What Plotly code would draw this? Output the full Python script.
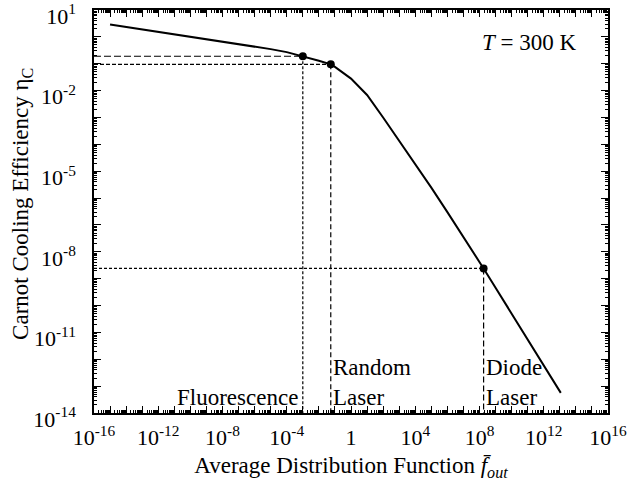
import plotly.graph_objects as go

# Carnot cooling efficiency versus average photon distribution function (T = 300 K)
f_out = [1e-15, 1e-14, 1e-13, 1e-12, 1e-11, 1e-10, 1e-9, 1e-8, 1e-7, 1e-6,
         1e-5, 1e-4, 1e-3, 1e-2, 0.055, 0.1, 1, 10, 100, 1e3, 1e4, 1e5,
         1e6, 1e7, 1e8, 1.8e8, 1e9, 1e10, 1e11, 1e12, 1.15e13]
eta_c = [2.88, 2.34, 1.86, 1.51, 1.20, 0.98, 0.79, 0.65, 0.52, 0.43,
         0.35, 0.27, 0.19, 0.13, 0.095, 0.076, 0.028, 0.0069, 1.0e-3, 1.38e-4, 1.86e-5, 2.45e-6,
         3.0e-7, 3.6e-8, 4.2e-9, 2.4e-9, 4.6e-10, 5.0e-11, 5.5e-12, 5.9e-13, 5.6e-14]

# Operating points of the three light sources
regime_names = ["Fluorescence", "Random<br>Laser", "Diode<br>Laser"]
regime_f = [1e-3, 0.055, 1.8e8]
regime_eta = [0.19, 0.095, 2.4e-9]

# Axis decades and labelled decades
x_decades = list(range(-16, 17))
x_labelled = [-16, -12, -8, -4, 0, 4, 8, 12, 16]
y_decades = list(range(-14, 2))
y_labelled = [1, -2, -5, -8, -11, -14]

X_MIN, X_MAX = -16, 16
Y_MIN, Y_MAX = -14, 1
FONT = "Liberation Serif, Times New Roman, serif"
TXT = 23


def tick_label(k):
    return "1" if k == 0 else f"10<sup>{k}</sup>"


def minor_vals(decades):
    return [m * 10.0 ** k for k in decades[:-1] for m in range(2, 10)]


fig = go.Figure()

# Dashed guide lines from each operating point to the axes
h_dash = ["7px,3px", "4px,2px", "3px,2px"]
v_dash = ["3px,2px", "5px,3px", "6px,3px"]
for fx, ey, hd, vd in zip(regime_f, regime_eta, h_dash, v_dash):
    fig.add_trace(go.Scatter(x=[10.0 ** X_MIN, fx], y=[ey, ey], mode="lines",
                             line=dict(color="black", width=1.2, dash=hd),
                             hoverinfo="skip", showlegend=False))
    fig.add_trace(go.Scatter(x=[fx, fx], y=[ey, 10.0 ** Y_MIN], mode="lines",
                             line=dict(color="black", width=1.2, dash=vd),
                             hoverinfo="skip", showlegend=False))

# Efficiency curve
fig.add_trace(go.Scatter(x=f_out, y=eta_c, mode="lines",
                         line=dict(color="black", width=2),
                         showlegend=False))

# Operating point markers
fig.add_trace(go.Scatter(x=regime_f, y=regime_eta, mode="markers",
                         marker=dict(color="black", size=8),
                         showlegend=False))

# Regime labels
label_font = dict(size=TXT, family=FONT, color="black")
fig.add_annotation(x=-3, y=-13.85, xref="x", yref="y", text=regime_names[0],
                   showarrow=False, xanchor="right", yanchor="bottom",
                   xshift=-3, yshift=-3, font=label_font)
fig.add_annotation(x=-1.26, y=-13.85, xref="x", yref="y", text=regime_names[1],
                   showarrow=False, xanchor="left", yanchor="bottom", align="left",
                   xshift=0, yshift=-3, font=label_font)
fig.add_annotation(x=8.25, y=-13.85, xref="x", yref="y", text=regime_names[2],
                   showarrow=False, xanchor="left", yanchor="bottom", align="left",
                   xshift=0, yshift=-3, font=label_font)

fig.add_annotation(x=0.94, y=0.92, xref="paper", yref="paper",
                   text="<i>T</i> = 300 K", showarrow=False,
                   xanchor="right", yanchor="middle", xshift=2,
                   font=label_font)

# Vertical axis title
fig.add_annotation(x=-0.14, y=0.519, xref="paper", yref="paper",
                   text="Carnot Cooling Efficiency \u03b7<sub>C</sub>",
                   textangle=-90, showarrow=False,
                   xanchor="center", yanchor="middle", font=label_font)

axis_common = dict(
    showline=True, linecolor="black", linewidth=1.5, mirror="ticks",
    ticks="inside", ticklen=7, tickwidth=1.2, tickcolor="black",
    showgrid=False, zeroline=False, automargin=False,
    ticklabeloverflow="allow",
    tickfont=dict(size=22, family=FONT, color="black"),
)

fig.update_xaxes(
    type="log", range=[X_MIN, X_MAX],
    tickmode="array",
    tickvals=[10.0 ** k for k in x_decades],
    ticktext=[tick_label(k) if k in x_labelled else "" for k in x_decades],
    minor=dict(tickmode="array", tickvals=minor_vals(x_decades), ticks="inside",
               ticklen=3.5, tickwidth=1, tickcolor="black"),
    title=dict(text="Average Distribution Function <i>f\u0304</i><sub><i>out</i></sub>",
               font=dict(size=TXT, family=FONT, color="black"), standoff=8),
    ticklabelstandoff=4,
    **axis_common,
)
fig.update_yaxes(
    type="log", range=[Y_MIN, Y_MAX],
    tickmode="array",
    tickvals=[10.0 ** k for k in y_decades],
    ticktext=[tick_label(k) if k in y_labelled else "" for k in y_decades],
    minor=dict(tickmode="array", tickvals=minor_vals(y_decades), ticks="inside",
               ticklen=3.5, tickwidth=1, tickcolor="black"),
    ticklabelstandoff=12,
    ticklabelshift=6,
    **axis_common,
)

fig.update_layout(
    width=628, height=490,
    margin=dict(l=94, r=20, t=10, b=77),
    paper_bgcolor="white", plot_bgcolor="white",
    font=dict(family=FONT, color="black"),
)

fig.write_html("out.html")
